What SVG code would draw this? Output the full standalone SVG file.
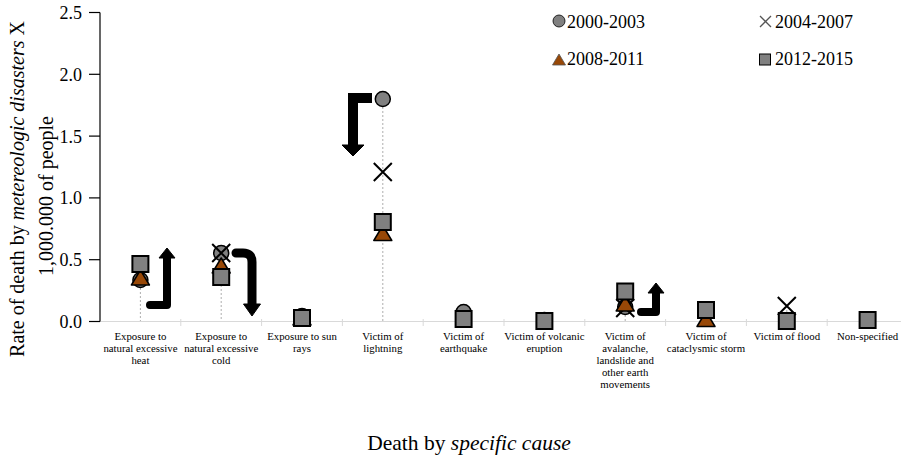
<svg xmlns="http://www.w3.org/2000/svg" width="901" height="458" viewBox="0 0 901 458">
<defs>
<style>
text,tspan{font-family:"Liberation Serif","Times New Roman",serif;fill:#000}
.tick{font-size:18px;text-anchor:end}
.cat{font-size:10.8px;text-anchor:middle}
.title{font-size:20px;text-anchor:middle}
.xtitle{font-size:21.5px;text-anchor:middle}
.circ{fill:#808080;stroke:#000;stroke-width:1.5}
.tri{fill:#984807;stroke:#000;stroke-width:1.5;stroke-linejoin:round}
.sq{fill:#808080;stroke:#000;stroke-width:2}
.x{stroke:#000;stroke-width:2;fill:none}
.drop{stroke:#999;stroke-width:0.8;stroke-dasharray:2,2}
.arrow{stroke:#000;fill:none}
.head{fill:#000;stroke:#000;stroke-width:1;stroke-linejoin:round}
</style>
<circle id="mCirc" class="circ" cx="0" cy="0" r="7.5"/>
<path id="mX" class="x" d="M-9,-9 L9,9 M9,-9 L-9,9"/>
<polygon id="mTri" class="tri" points="0,-8 9,7 -9,7"/>
<rect id="mSq" class="sq" x="-8" y="-8" width="16" height="16"/>
</defs>
<rect width="901" height="458" fill="#fff"/>

<g id="axes">
<line x1="100" y1="321.5" x2="901" y2="321.5" stroke="#d9d9d9" stroke-width="1.2"/>
<g stroke="#d9d9d9" stroke-width="1">
<line x1="180.8" y1="319" x2="180.8" y2="326"/><line x1="261.6" y1="319" x2="261.6" y2="326"/>
<line x1="342.4" y1="319" x2="342.4" y2="326"/><line x1="423.2" y1="319" x2="423.2" y2="326"/>
<line x1="504" y1="319" x2="504" y2="326"/><line x1="584.8" y1="319" x2="584.8" y2="326"/>
<line x1="665.6" y1="319" x2="665.6" y2="326"/><line x1="746.4" y1="319" x2="746.4" y2="326"/>
<line x1="827.2" y1="319" x2="827.2" y2="326"/>
</g>
<line x1="100" y1="12.5" x2="100" y2="321.5" stroke="#000" stroke-width="1.2"/>
<g stroke="#000" stroke-width="1.2">
<line x1="89" y1="12.5" x2="100" y2="12.5"/><line x1="89" y1="74.3" x2="100" y2="74.3"/>
<line x1="89" y1="136.1" x2="100" y2="136.1"/><line x1="89" y1="197.9" x2="100" y2="197.9"/>
<line x1="89" y1="259.7" x2="100" y2="259.7"/><line x1="89" y1="321.5" x2="100" y2="321.5"/>
</g>
<text class="tick" x="82" y="19">2.5</text>
<text class="tick" x="82" y="80.8">2.0</text>
<text class="tick" x="82" y="142.6">1.5</text>
<text class="tick" x="82" y="204.4">1.0</text>
<text class="tick" x="82" y="266.2">0.5</text>
<text class="tick" x="82" y="328">0.0</text>
</g>

<g id="category-labels">
<text class="cat" x="140.4" y="340">Exposure to</text>
<text class="cat" x="140.4" y="352">natural excessive</text>
<text class="cat" x="140.4" y="364">heat</text>
<text class="cat" x="221.2" y="340">Exposure to</text>
<text class="cat" x="221.2" y="352">natural excessive</text>
<text class="cat" x="221.2" y="364">cold</text>
<text class="cat" x="302" y="340">Exposure to sun</text>
<text class="cat" x="302" y="352">rays</text>
<text class="cat" x="382.8" y="340">Victim of</text>
<text class="cat" x="382.8" y="352">lightning</text>
<text class="cat" x="463.6" y="340">Victim of</text>
<text class="cat" x="463.6" y="352">earthquake</text>
<text class="cat" x="544.4" y="340">Victim of volcanic</text>
<text class="cat" x="544.4" y="352">eruption</text>
<text class="cat" x="625.2" y="340">Victim of</text>
<text class="cat" x="625.2" y="352">avalanche,</text>
<text class="cat" x="625.2" y="364">landslide and</text>
<text class="cat" x="625.2" y="376">other earth</text>
<text class="cat" x="625.2" y="388">movements</text>
<text class="cat" x="706" y="340">Victim of</text>
<text class="cat" x="706" y="352">cataclysmic storm</text>
<text class="cat" x="786.8" y="340">Victim of flood</text>
<text class="cat" x="867.6" y="340">Non-specified</text>
</g>

<g id="axis-titles">
<text class="xtitle" x="469" y="450">Death by <tspan font-style="italic">specific cause</tspan></text>
<text class="title" transform="translate(24,189) rotate(-90)">Rate of death by <tspan font-style="italic">metereologic disasters</tspan> X</text>
<text class="title" transform="translate(53,196) rotate(-90)">1,000.000 of people</text>
</g>

<g id="connectors">
<line class="drop" x1="140.4" y1="280" x2="140.4" y2="321"/>
<line class="drop" x1="221.2" y1="253" x2="221.2" y2="321"/>
<line class="drop" x1="302" y1="316" x2="302" y2="321"/>
<line class="drop" x1="382.8" y1="99" x2="382.8" y2="321"/>
<line class="drop" x1="463.6" y1="312" x2="463.6" y2="321"/>
<line class="drop" x1="625.2" y1="291" x2="625.2" y2="321"/>
<line class="drop" x1="706" y1="310" x2="706" y2="321"/>
<line class="drop" x1="786.8" y1="306" x2="786.8" y2="321"/>
</g>

<g id="series-2000-2003">
<use href="#mCirc" x="140.4" y="280"/>
<use href="#mCirc" x="221.2" y="253"/>
<use href="#mCirc" x="302" y="316"/>
<use href="#mCirc" x="382.8" y="99"/>
<use href="#mCirc" x="463.6" y="312"/>
<use href="#mCirc" x="544.4" y="320"/>
<use href="#mCirc" x="625.2" y="307"/>
</g>
<g id="series-2004-2007">
<use href="#mX" x="221.2" y="253"/>
<use href="#mX" x="382.8" y="172"/>
<use href="#mX" x="625.2" y="308"/>
<use href="#mX" x="786.8" y="306"/>
</g>
<g id="series-2008-2011">
<use href="#mTri" x="140.4" y="278"/>
<use href="#mTri" x="221.2" y="266"/>
<use href="#mTri" x="302" y="318"/>
<use href="#mTri" x="382.8" y="233.5"/>
<use href="#mTri" x="625.2" y="304"/>
<use href="#mTri" x="706" y="319.5"/>
</g>
<g id="series-2012-2015">
<use href="#mSq" x="140.4" y="264"/>
<use href="#mSq" x="221.2" y="277"/>
<use href="#mSq" x="302" y="318"/>
<use href="#mSq" x="382.8" y="222"/>
<use href="#mSq" x="463.6" y="319"/>
<use href="#mSq" x="544.4" y="321"/>
<use href="#mSq" x="625.2" y="291.5"/>
<use href="#mSq" x="706" y="310"/>
<use href="#mSq" x="786.8" y="321"/>
<use href="#mSq" x="867.6" y="320"/>
</g>

<g id="arrow-heat">
<path class="arrow" d="M150,305 H167 V257" stroke-width="8" stroke-linejoin="round" stroke-linecap="round"/>
<polygon class="head" points="159,258 167,248 175,258"/>
</g>
<g id="arrow-cold">
<path class="arrow" d="M236,253 H243 Q252,253 252,262 V305" stroke-width="9" stroke-linecap="round"/>
<polygon class="head" points="243.5,304 252,316 260.5,304"/>
</g>
<g id="arrow-lightning">
<path class="arrow" d="M353,146 V98 H372" stroke-width="10" stroke-linejoin="miter"/>
<polygon class="head" points="342,145 353,156 364,145"/>
</g>
<g id="arrow-avalanche">
<path class="arrow" d="M641,312 H656 V292" stroke-width="8" stroke-linejoin="round" stroke-linecap="round"/>
<polygon class="head" points="648,293 656,283 664,293"/>
</g>

<g id="legend">
<circle cx="559" cy="21" r="6" fill="#808080" stroke="#000" stroke-width="0.8"/>
<text x="567" y="28" font-size="18">2000-2003</text>
<path d="M760,16 L771,27 M771,16 L760,27" stroke="#555" stroke-width="1.3" fill="none"/>
<text x="775" y="28" font-size="18">2004-2007</text>
<polygon points="559,54 565.5,65 552.5,65" fill="#984807" stroke="#555" stroke-width="0.8"/>
<text x="567" y="65" font-size="18">2008-2011</text>
<rect x="759.5" y="54" width="11" height="11" fill="#808080" stroke="#000" stroke-width="1"/>
<text x="775" y="65" font-size="18">2012-2015</text>
</g>
</svg>
